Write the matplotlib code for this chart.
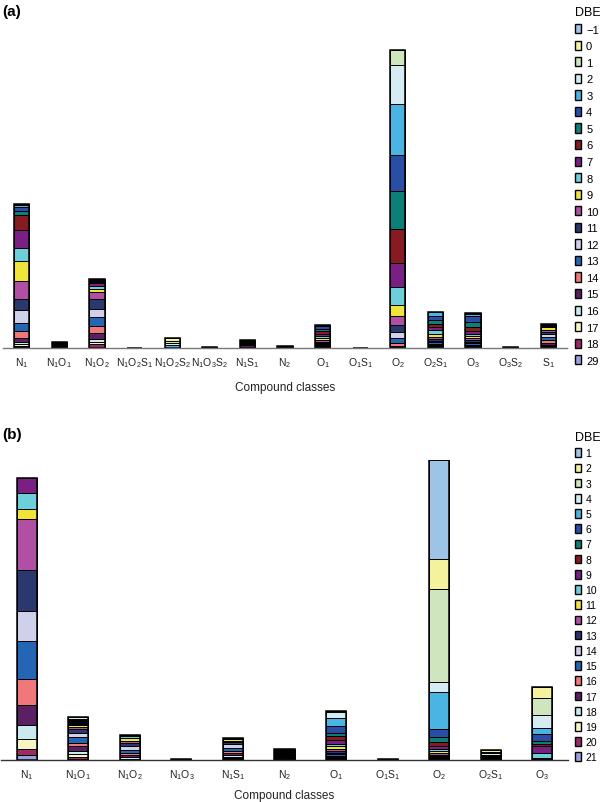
import matplotlib
matplotlib.use('Agg')
import matplotlib.pyplot as plt
from matplotlib.patches import Patch
import numpy as np

plt.rcParams['font.family'] = ['Liberation Sans', 'DejaVu Sans']
plt.rcParams['mathtext.fontset'] = 'custom'
plt.rcParams['mathtext.rm'] = 'Liberation Sans'
plt.rcParams['mathtext.it'] = 'Liberation Sans:italic'
plt.rcParams['mathtext.bf'] = 'Liberation Sans:bold'

palette = ['#9dc3e6', '#f5f29e', '#cfe5bd', '#d5edf2', '#4ab5e2', '#2a4ea6',
           '#0b7f78', '#861c22', '#7a1f84', '#6ccfd9', '#efe43a', '#b04fa3',
           '#2a386e', '#cfd0ea', '#2466b4', '#f0777a', '#5b2064', '#c9ebf0',
           '#f7f5c4', '#9c2a66', '#9aa0dc']

# ---------------- Panel (a) ----------------
dbe_a = ['\u22121', '0', '1', '2', '3', '4', '5', '6', '7', '8', '9', '10',
         '11', '12', '13', '14', '15', '16', '17', '18', '29']
classes_a = ['N_1', 'N_1O_1', 'N_1O_2', 'N_1O_2S_1', 'N_1O_2S_2', 'N_1O_3S_2',
             'N_1S_1', 'N_2', 'O_1', 'O_1S_1', 'O_2', 'O_2S_1', 'O_3', 'O_3S_2', 'S_1']
#            -1   0    1    2    3    4    5    6    7    8    9    10   11   12   13   14   15   16   17   18   29
a_N1     = [0,   0,   0.5, 0.5, 2,   4,   4,   15,  18,  13,  20,  18,  11,  13,  8,   7,   4,   2,   1.5, 1.5, 1]
a_N1O1   = [0,   0,   0,   0,   0,   0.4, 0.4, 0.4, 0.4, 0.4, 0.4, 0.4, 0.4, 0.4, 0.4, 0.4, 0.4, 0.4, 0.4, 0.4, 0]
a_N1O2   = [0,   0,   0,   0,   1,   1,   1,   1,   3,   3,   3,   7,   10,  8,   9,   7,   6,   3,   2,   4,   0]
a_N1O2S1 = [0,   0,   0,   0,   0,   0,   0,   0,   0,   0,   0,   0,   0,   0,   0,   0,   0,   0,   0,   0,   0]
a_N1O2S2 = [0,   3,   2,   2,   2.5, 0.5, 0,   0,   0,   0,   0,   0,   0,   0,   0,   0,   0,   0,   0,   0,   0]
a_N1O3S2 = [0,   0,   0,   0,   0,   0,   0.5, 0.5, 0.5, 0,   0,   0,   0,   0,   0,   0,   0,   0,   0,   0,   0]
a_N1S1   = [0,   0,   0,   0,   0,   0.5, 0.5, 0.5, 0.5, 0.5, 0.5, 0.5, 0.5, 0.5, 0.5, 0.5, 1.5, 0.5, 0.3, 0.3, 0]
a_N2     = [0,   0,   0,   0,   0,   0,   0,   0.5, 0.5, 0.5, 0.5, 0.5, 0,   0,   0,   0,   0,   0,   0,   0,   0]
a_O1     = [0,   0,   0,   0,   1,   2.5, 2.5, 2.5, 2.5, 2,   2,   1.5, 1.5, 1,   1,   1,   1,   0.2, 0.2, 0.5, 0]
a_O1S1   = [0,   0,   0,   0,   0,   0,   0,   0,   0,   0,   0,   0,   0,   0,   0,   0,   0,   0,   0,   0,   0]
a_O2     = [0,   0,   15,  39,  51,  36,  38,  34,  24,  18,  11,  9,   7,   6,   5,   2.5, 1,   0.5, 0.5, 0.5, 0]
a_O2S1   = [0,   0,   0.3, 0.5, 3.5, 4,   4,   3.5, 3,   4,   3,   2,   2,   1,   1.5, 1,   1.5, 0.3, 0.3, 1,   0]
a_O3     = [0,   0,   0.5, 1,   2,   5.5, 5.5, 3.5, 3,   2,   2,   2,   2,   1,   2,   1,   1,   0.2, 0.2, 1,   0]
a_O3S2   = [0,   0,   0,   0,   0,   0,   0,   0.5, 0.5, 0.5, 0,   0,   0,   0,   0,   0,   0,   0,   0,   0,   0]
a_S1     = [0,   0,   0,   0,   0,   0,   0.5, 1,   1,   0.5, 2.5, 2,   2.5, 3,   3,   3,   1.5, 1.5, 1,   1,   0]
values_a = [a_N1, a_N1O1, a_N1O2, a_N1O2S1, a_N1O2S2, a_N1O3S2, a_N1S1, a_N2,
            a_O1, a_O1S1, a_O2, a_O2S1, a_O3, a_O3S2, a_S1]

# ---------------- Panel (b) ----------------
dbe_b = [str(i) for i in range(1, 22)]
classes_b = ['N_1', 'N_1O_1', 'N_1O_2', 'N_1O_3', 'N_1S_1', 'N_2', 'O_1',
             'O_1S_1', 'O_2', 'O_2S_1', 'O_3']
#            1    2    3    4    5    6    7    8    9    10   11   12   13   14   15   16   17   18   19   20   21
b_N1     = [0,   0,   0,   0,   0,   0,   0,   0,   15,  16,  10,  51,  41,  30,  38,  26,  20,  14,  10,  6,   5]
b_N1O1   = [0,   0,   0,   1.5, 1,   1,   1,   1,   1,   1.5, 1.5, 2,   4,   4.5, 6,   2.5, 5,   3.5, 2.5, 2,   1.5]
b_N1O2   = [0,   0,   0,   0,   0,   0,   0,   0.5, 1,   2,   2.5, 2.5, 3,   3.5, 3.5, 2,   2,   1.5, 1,   0.5, 0]
b_N1O3   = [0,   0,   0,   0,   0,   0,   0,   0,   0,   0,   0,   0.4, 0.4, 0.4, 0,   0,   0,   0,   0,   0,   0]
b_N1S1   = [0,   0,   0,   0,   0,   0,   0,   0,   0.5, 1,   1.5, 1.5, 2,   4,   2.5, 2,   2.5, 1.5, 1.5, 1,   1]
b_N2     = [0,   0,   0,   0,   0.6, 0.6, 0.6, 0.6, 0.6, 0.6, 0.6, 0.6, 0.6, 0.6, 0.6, 0.6, 0.6, 0.6, 1,   1,   0.4]
b_O1     = [0,   0,   0.5, 6,   8,   7,   3,   4,   4,   2.5, 2.5, 2.5, 1.5, 1.5, 1.5, 1,   1,   1,   0.5, 0.5, 0.5]
b_O1S1   = [0,   0,   0,   0,   0,   0,   0,   0.5, 0.5, 0.5, 0,   0,   0,   0,   0,   0,   0,   0,   0,   0,   0]
b_O2     = [99,  30,  93,  10,  37,  8,   5,   3.5, 3.5, 2,   2,   1.5, 1,   1,   1,   0.5, 0.5, 0.5, 0.5, 0.3, 0.2]
b_O2S1   = [0,   1.5, 1.5, 1.5, 0.5, 0.5, 0.5, 0.5, 0.5, 0.5, 0.5, 0.5, 0.5, 0.3, 0.3, 0,   0,   0,   0,   0,   0]
b_O3     = [0,   11,  17,  13,  6,   7,   3,   2,   7,   4.5, 0.5, 0.5, 0.5, 0.3, 0.3, 0,   0,   0,   0,   0,   0]
values_b = [b_N1, b_N1O1, b_N1O2, b_N1O3, b_N1S1, b_N2, b_O1, b_O1S1, b_O2, b_O2S1, b_O3]

W, H = 600, 803
fig = plt.figure(figsize=(6.0, 8.03), dpi=100)


def panel(rect, classes, values, dbe, width, spine_color, leg_anchor, leg_fs, leg_sp, xl_off):
    ax = fig.add_axes(rect)
    vals = np.array(values, dtype=float)
    x = np.arange(len(classes))
    bottom = np.zeros(len(classes))
    for j in range(vals.shape[1] - 1, -1, -1):
        h = vals[:, j]
        m = h > 0
        if m.any():
            ax.bar(x[m], h[m], bottom=bottom[m], width=width, color=palette[j],
                   edgecolor='black', linewidth=0.7)
        bottom += h
    ax.bar(x, bottom, width=width, fill=False, edgecolor='black', linewidth=1.1)
    ax.set_xlim(-0.5, len(classes) - 0.5)
    ax.set_ylim(0, 300)
    for s in ['left', 'top', 'right']:
        ax.spines[s].set_visible(False)
    ax.spines['bottom'].set_color(spine_color)
    ax.spines['bottom'].set_linewidth(1.0)
    ax.set_yticks([])
    ax.set_xticks(x)
    ax.set_xticklabels([r'$\mathregular{' + c + '}$' for c in classes], fontsize=7.5, color='#222222')
    ax.tick_params(axis='x', length=0, pad=5)
    ax.set_xlabel('Compound classes', fontsize=8.5, color='#222222')
    ax.xaxis.set_label_coords(0.5, xl_off)
    handles = [Patch(facecolor=palette[k], edgecolor='black', linewidth=1.0) for k in range(len(dbe))]
    leg = fig.legend(handles, dbe, loc='upper left', bbox_to_anchor=leg_anchor,
                     frameon=False, fontsize=leg_fs, title='DBE', title_fontsize=9,
                     handlelength=0.55, handleheight=0.9, handletextpad=0.45,
                     labelspacing=leg_sp, borderpad=0, borderaxespad=0)
    leg._legend_box.align = 'left'
    return ax


# panel (a): baseline at y=349 px, axis from x=3 to 567
panel([3 / W, (H - 349) / H, 564 / W, 300 / H], classes_a, values_a, dbe_a, 0.4,
      '#777777', (575 / W, 1 - 7 / H), 8, 0.55, -33 / 300)
# panel (b): baseline at y=761 px, axis from x=1 to 568
panel([1 / W, (H - 761) / H, 567 / W, 300 / H], classes_b, values_b, dbe_b, 0.39,
      '#333333', (575 / W, 1 - 432 / H), 7.5, 0.5, -29 / 300)

fig.text(2 / W, 1 - 12 / H, '(a)', fontsize=11, fontweight='bold', va='center', ha='left')
fig.text(2 / W, 1 - 435 / H, '(b)', fontsize=11, fontweight='bold', va='center', ha='left')

fig.savefig('out.png', dpi=100)
